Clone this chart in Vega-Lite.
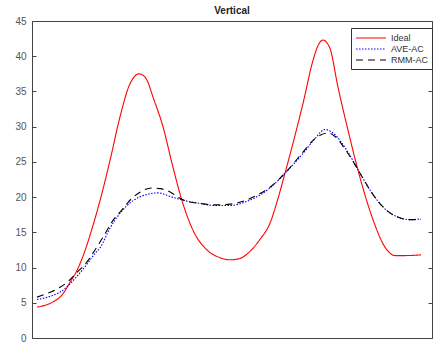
{
  "$schema": "https://vega.github.io/schema/vega-lite/v6.json",
  "width": 400,
  "height": 317,
  "autosize": {"type": "none"},
  "padding": {"left": 32, "top": 21, "right": 2, "bottom": 7},
  "background": "white",
  "title": {"text": "Vertical", "fontSize": 10, "font": "Liberation Sans", "fontWeight": "bold", "color": "#222", "offset": 0},
  "config": {
    "view": {"stroke": "#444", "strokeWidth": 1},
    "font": "Liberation Sans",
    "axis": {"grid": false, "domain": false, "labelFont": "Liberation Sans", "labelFontSize": 10, "labelColor": "#555", "tickColor": "#444", "tickSize": -4, "labelPadding": 10, "title": null}
  },
  "data": {"values": [
    {"x":5,"v":4.4,"s":"Ideal"},{"x":12,"v":4.6,"s":"Ideal"},{"x":18,"v":4.9,"s":"Ideal"},{"x":23,"v":5.3,"s":"Ideal"},{"x":28,"v":5.8,"s":"Ideal"},{"x":33,"v":6.7,"s":"Ideal"},{"x":38,"v":7.9,"s":"Ideal"},{"x":45,"v":9.6,"s":"Ideal"},{"x":53,"v":12.4,"s":"Ideal"},{"x":60,"v":15.5,"s":"Ideal"},{"x":68,"v":19.5,"s":"Ideal"},{"x":78,"v":25.2,"s":"Ideal"},{"x":88,"v":31.4,"s":"Ideal"},{"x":98,"v":36.1,"s":"Ideal"},{"x":103,"v":37.2,"s":"Ideal"},{"x":107,"v":37.5,"s":"Ideal"},{"x":111,"v":37.3,"s":"Ideal"},{"x":115,"v":36.6,"s":"Ideal"},{"x":121,"v":34.2,"s":"Ideal"},{"x":131,"v":30,"s":"Ideal"},{"x":140,"v":24.8,"s":"Ideal"},{"x":150,"v":19.5,"s":"Ideal"},{"x":161,"v":15.3,"s":"Ideal"},{"x":175,"v":12.5,"s":"Ideal"},{"x":188,"v":11.4,"s":"Ideal"},{"x":198,"v":11.1,"s":"Ideal"},{"x":208,"v":11.3,"s":"Ideal"},{"x":218,"v":12.3,"s":"Ideal"},{"x":228,"v":14,"s":"Ideal"},{"x":238,"v":16.3,"s":"Ideal"},{"x":246,"v":19.8,"s":"Ideal"},{"x":253,"v":23.4,"s":"Ideal"},{"x":262,"v":28.2,"s":"Ideal"},{"x":271,"v":33.3,"s":"Ideal"},{"x":281,"v":39.4,"s":"Ideal"},{"x":286,"v":41.5,"s":"Ideal"},{"x":291,"v":42.3,"s":"Ideal"},{"x":295,"v":41.9,"s":"Ideal"},{"x":298,"v":41.1,"s":"Ideal"},{"x":306,"v":35.6,"s":"Ideal"},{"x":316,"v":29.5,"s":"Ideal"},{"x":327,"v":23.3,"s":"Ideal"},{"x":340,"v":17.2,"s":"Ideal"},{"x":353,"v":12.9,"s":"Ideal"},{"x":363,"v":11.7,"s":"Ideal"},{"x":373,"v":11.7,"s":"Ideal"},{"x":389,"v":11.8,"s":"Ideal"},
    {"x":5,"v":5.45,"s":"AVE-AC"},{"x":13,"v":5.7,"s":"AVE-AC"},{"x":20,"v":6.0,"s":"AVE-AC"},{"x":28,"v":6.5,"s":"AVE-AC"},{"x":36,"v":7.4,"s":"AVE-AC"},{"x":44,"v":8.6,"s":"AVE-AC"},{"x":54,"v":10.3,"s":"AVE-AC"},{"x":63,"v":12.0,"s":"AVE-AC"},{"x":68,"v":12.8,"s":"AVE-AC"},{"x":78,"v":15.6,"s":"AVE-AC"},{"x":88,"v":17.7,"s":"AVE-AC"},{"x":101,"v":19.5,"s":"AVE-AC"},{"x":113,"v":20.3,"s":"AVE-AC"},{"x":126,"v":20.6,"s":"AVE-AC"},{"x":140,"v":20.0,"s":"AVE-AC"},{"x":153,"v":19.5,"s":"AVE-AC"},{"x":168,"v":19.1,"s":"AVE-AC"},{"x":183,"v":18.8,"s":"AVE-AC"},{"x":198,"v":18.8,"s":"AVE-AC"},{"x":213,"v":19.3,"s":"AVE-AC"},{"x":228,"v":20.3,"s":"AVE-AC"},{"x":238,"v":21.3,"s":"AVE-AC"},{"x":253,"v":23.4,"s":"AVE-AC"},{"x":271,"v":26.2,"s":"AVE-AC"},{"x":283,"v":28.3,"s":"AVE-AC"},{"x":293,"v":29.6,"s":"AVE-AC"},{"x":301,"v":29.1,"s":"AVE-AC"},{"x":315,"v":26.6,"s":"AVE-AC"},{"x":328,"v":23.4,"s":"AVE-AC"},{"x":338,"v":21,"s":"AVE-AC"},{"x":351,"v":18.6,"s":"AVE-AC"},{"x":365,"v":17.2,"s":"AVE-AC"},{"x":378,"v":16.8,"s":"AVE-AC"},{"x":389,"v":16.9,"s":"AVE-AC"},
    {"x":5,"v":5.8,"s":"RMM-AC"},{"x":13,"v":6.2,"s":"RMM-AC"},{"x":20,"v":6.6,"s":"RMM-AC"},{"x":28,"v":7.2,"s":"RMM-AC"},{"x":36,"v":8.0,"s":"RMM-AC"},{"x":45,"v":9.3,"s":"RMM-AC"},{"x":55,"v":10.8,"s":"RMM-AC"},{"x":63,"v":12.5,"s":"RMM-AC"},{"x":71,"v":14.3,"s":"RMM-AC"},{"x":81,"v":16.7,"s":"RMM-AC"},{"x":90,"v":18.2,"s":"RMM-AC"},{"x":99,"v":19.7,"s":"RMM-AC"},{"x":108,"v":20.7,"s":"RMM-AC"},{"x":120,"v":21.3,"s":"RMM-AC"},{"x":128,"v":21.2,"s":"RMM-AC"},{"x":136,"v":20.9,"s":"RMM-AC"},{"x":146,"v":20.0,"s":"RMM-AC"},{"x":153,"v":19.5,"s":"RMM-AC"},{"x":168,"v":19.1,"s":"RMM-AC"},{"x":183,"v":18.9,"s":"RMM-AC"},{"x":198,"v":19.0,"s":"RMM-AC"},{"x":213,"v":19.5,"s":"RMM-AC"},{"x":228,"v":20.5,"s":"RMM-AC"},{"x":238,"v":21.4,"s":"RMM-AC"},{"x":253,"v":23.4,"s":"RMM-AC"},{"x":271,"v":26.4,"s":"RMM-AC"},{"x":283,"v":28.3,"s":"RMM-AC"},{"x":296,"v":29.1,"s":"RMM-AC"},{"x":303,"v":28.6,"s":"RMM-AC"},{"x":315,"v":26.4,"s":"RMM-AC"},{"x":328,"v":23.4,"s":"RMM-AC"},{"x":338,"v":21,"s":"RMM-AC"},{"x":351,"v":18.6,"s":"RMM-AC"},{"x":365,"v":17.2,"s":"RMM-AC"},{"x":378,"v":16.8,"s":"RMM-AC"},{"x":389,"v":16.8,"s":"RMM-AC"}
  ]},
  "layer": [
    {
      "mark": {"type": "line", "interpolate": "monotone", "strokeWidth": 1.1},
      "encoding": {
        "x": {"field": "x", "type": "quantitative", "scale": {"domain": [0, 400], "nice": false, "zero": false}, "axis": null},
        "y": {"field": "v", "type": "quantitative", "scale": {"domain": [0, 45], "nice": false}, "axis": {"orient": "left", "values": [0,5,10,15,20,25,30,35,40,45]}},
        "color": {"field": "s", "type": "nominal", "sort": ["Ideal", "AVE-AC", "RMM-AC"], "scale": {"domain": ["Ideal", "AVE-AC", "RMM-AC"], "range": ["#ff0000", "#0000ff", "#000000"]},
          "legend": {"title": null, "orient": "none", "legendX": 319, "legendY": 7, "strokeColor": "#333", "fillColor": "white", "padding": 4, "symbolType": "M-1,0H5", "symbolSize": 100, "symbolStrokeWidth": 1.2, "labelFontSize": 9, "labelColor": "#333", "rowPadding": 0, "labelOffset": 24, "labelLimit": 60}},
        "strokeDash": {"field": "s", "type": "nominal", "sort": ["Ideal", "AVE-AC", "RMM-AC"], "scale": {"domain": ["Ideal", "AVE-AC", "RMM-AC"], "range": [[1, 0], [1.5, 1.5], [7, 5]]}, "legend": null}
      }
    },
    {
      "mark": {"type": "line", "opacity": 0},
      "encoding": {
        "x": {"field": "x", "type": "quantitative", "scale": {"domain": [0, 400], "nice": false, "zero": false}, "axis": null},
        "y": {"field": "v", "type": "quantitative", "axis": {"orient": "right", "labels": false, "values": [0,5,10,15,20,25,30,35,40,45]}},
        "detail": {"field": "s", "type": "nominal"}
      }
    }
  ],
  "resolve": {"axis": {"y": "independent"}}
}
